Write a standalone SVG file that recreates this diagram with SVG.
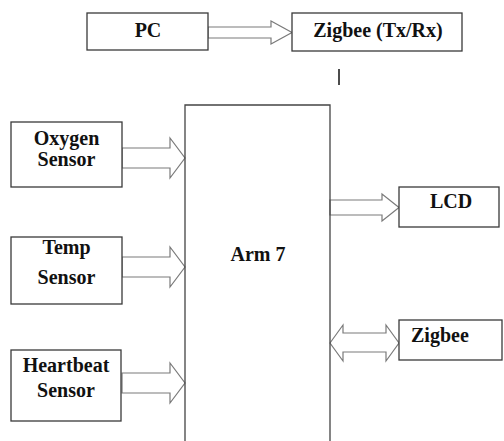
<svg xmlns="http://www.w3.org/2000/svg" width="504" height="441" viewBox="0 0 504 441">
<style>
.box{fill:#fff;stroke:#3a3a3a;stroke-width:1.3}
.arr{fill:#fff;stroke:#7a7a7a;stroke-width:1.2;stroke-linejoin:miter}
.t{font-family:'Liberation Serif','Times New Roman',Times,serif;font-weight:bold;font-size:20px;fill:#111}
.c{text-anchor:middle}
</style>
<rect width="504" height="441" fill="#fff"/>
<g id="connectors">
<polygon class="arr" points="208,27 271,27 271,21 292,32.5 271,44 271,38 208,38"/>
<polygon class="arr" points="122,148 170,148 170,138 185,158 170,178 170,168 122,168"/>
<polygon class="arr" points="122,257 170,257 170,247 185,267 170,287 170,277 122,277"/>
<polygon class="arr" points="122,373 170,373 170,363 185,383 170,403 170,393 122,393"/>
<polygon class="arr" points="330,200 382,200 382,194 399,207.5 382,221 382,215 330,215"/>
<polygon class="arr" points="330,343 343,325 343,333 386,333 386,325 399,343 386,361 386,352 343,352 343,361"/>
<line x1="339" y1="69" x2="339" y2="85" stroke="#111" stroke-width="1.5"/>
</g>
<g id="pc"><rect class="box" x="87" y="13" width="121" height="37"/><text class="t c" x="148" y="37" font-family="Liberation Serif">PC</text></g>
<g id="zigbee-txrx"><rect class="box" x="292" y="13" width="170" height="38"/><text class="t c" x="378" y="37" font-family="Liberation Serif">Zigbee (Tx/Rx)</text></g>
<g id="oxygen"><rect class="box" x="11" y="122" width="111" height="65"/><text class="t c" x="66.5" y="145" font-family="Liberation Serif">Oxygen</text><text class="t c" x="66.5" y="166" font-family="Liberation Serif">Sensor</text></g>
<g id="temp"><rect class="box" x="11" y="237" width="111" height="67"/><text class="t c" x="66.5" y="254" font-family="Liberation Serif">Temp</text><text class="t c" x="66.5" y="284" font-family="Liberation Serif">Sensor</text></g>
<g id="heartbeat"><rect class="box" x="11" y="350" width="110" height="71"/><text class="t c" x="66" y="372" font-family="Liberation Serif">Heartbeat</text><text class="t c" x="66" y="397" font-family="Liberation Serif">Sensor</text></g>
<g id="arm7"><path d="M185,442 V105 H330 V442" fill="none" stroke="#444" stroke-width="1.3"/><text class="t c" x="258" y="261" font-family="Liberation Serif">Arm 7</text></g>
<g id="lcd"><rect class="box" x="399" y="187" width="100" height="40"/><text class="t c" x="451" y="208" font-family="Liberation Serif">LCD</text></g>
<g id="zigbee"><rect class="box" x="399" y="320" width="103" height="40"/><text class="t" x="411" y="342" font-family="Liberation Serif">Zigbee</text></g>
</svg>
